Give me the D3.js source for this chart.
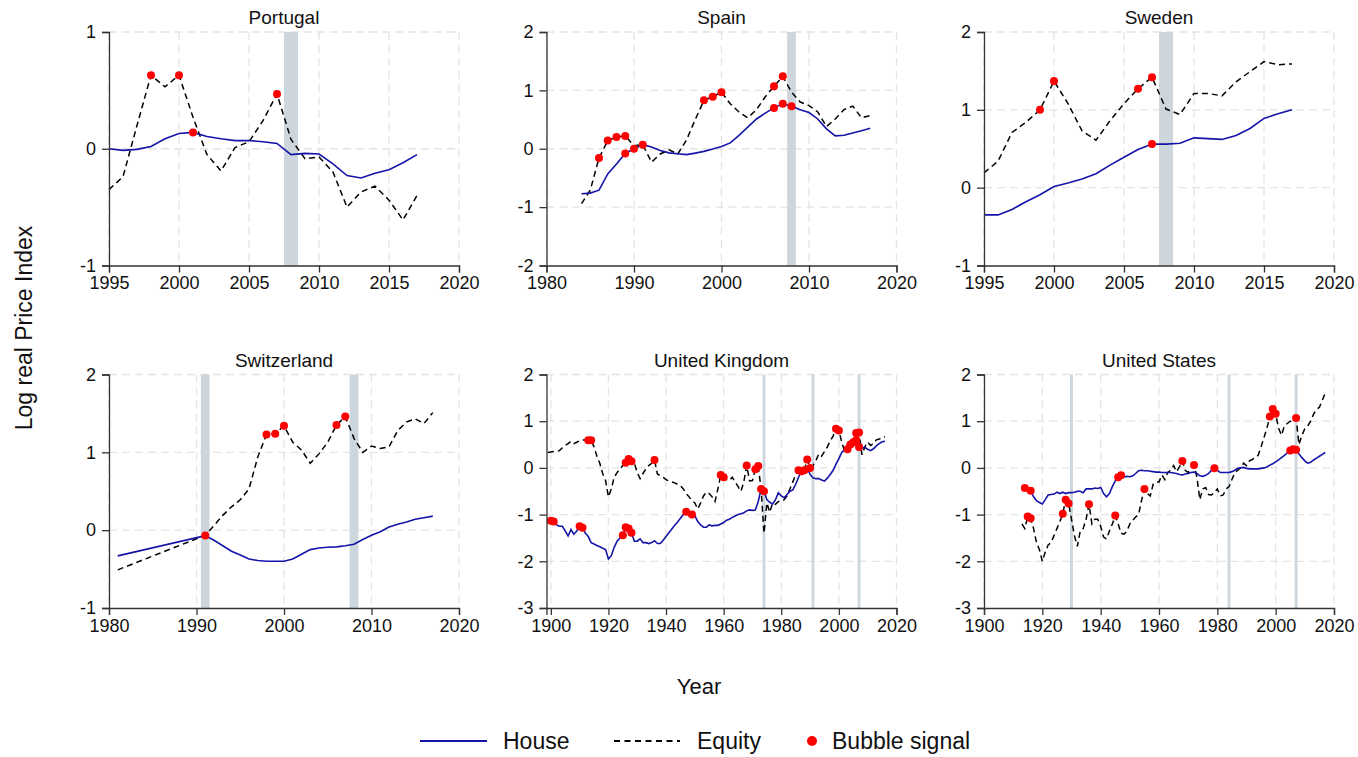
<!DOCTYPE html>
<html><head><meta charset="utf-8">
<script src="https://cdn.jsdelivr.net/npm/d3@7"></script>
<style>
body{margin:0;background:#fff;}
text{font-family:"Liberation Sans",Arial,Helvetica,sans-serif;fill:#111;}
</style></head><body>
<svg id="chart" width="1358" height="757"></svg>
<script>
// ---------- DATA ----------
const countries = ["Portugal","Spain","Sweden","Switzerland","United Kingdom","United States"];

const portugalStart = 1995;
const portugalHouse = [0.0,-0.014,-0.005,0.02,0.085,0.13,0.14,0.105,0.085,0.07,0.07,0.06,0.045,-0.05,-0.04,-0.045,-0.13,-0.23,-0.25,-0.21,-0.18,-0.12,-0.05];
const portugalEquity = [-0.35,-0.24,0.2,0.63,0.53,0.63,0.27,-0.05,-0.19,0.01,0.06,0.24,0.47,0.08,-0.085,-0.07,-0.2,-0.5,-0.37,-0.32,-0.44,-0.61,-0.4];
const portugalHouseBubbles = [2001];
const portugalEquityBubbles = [1998,2000,2007];
const portugalCrises = [[2007.5,2008.5]];

const spainStart = 1984;
const spainHouse = [-0.77,-0.76,-0.71,-0.43,-0.26,-0.08,0.0,0.07,0.03,-0.03,-0.07,-0.085,-0.1,-0.075,-0.045,-0.005,0.04,0.1,0.23,0.37,0.51,0.61,0.7,0.77,0.73,0.67,0.62,0.51,0.34,0.22,0.23,0.27,0.31,0.35];
const spainEquity = [-0.94,-0.71,-0.16,0.14,0.2,0.22,0.05,0.07,-0.23,-0.09,-0.02,-0.09,0.15,0.5,0.83,0.89,0.97,0.77,0.63,0.53,0.67,0.89,1.07,1.24,0.97,0.8,0.74,0.63,0.38,0.51,0.67,0.73,0.53,0.57];
const spainHouseBubbles = [1989,1990,1991,2006,2007,2008];
const spainEquityBubbles = [1986,1987,1988,1989,1998,1999,2000,2006,2007];
const spainCrises = [[2007.5,2008.5]];

const swedenStart = 1995;
const swedenHouse = [-0.35,-0.35,-0.28,-0.18,-0.09,0.015,0.06,0.11,0.18,0.29,0.39,0.49,0.56,0.56,0.57,0.64,0.63,0.62,0.67,0.76,0.89,0.95,1.0];
const swedenEquity = [0.19,0.34,0.71,0.84,1.0,1.37,1.08,0.73,0.61,0.86,1.08,1.27,1.42,1.01,0.94,1.21,1.21,1.18,1.36,1.49,1.62,1.58,1.59];
const swedenHouseBubbles = [2007];
const swedenEquityBubbles = [1999,2000,2006,2007];
const swedenCrises = [[2007.5,2008.5]];

const switzerlandStart = 1981;
const switzerlandHouse = [-0.33,null,null,null,null,null,null,null,null,null,-0.07,-0.13,-0.2,-0.27,-0.32,-0.37,-0.39,-0.4,-0.4,-0.4,-0.37,-0.31,-0.25,-0.23,-0.22,-0.215,-0.2,-0.18,-0.12,-0.065,-0.02,0.04,0.075,0.105,0.14,0.16,0.18];
const switzerlandEquity = [-0.51,null,null,null,null,null,null,null,null,null,-0.066,0.06,0.19,0.3,0.39,0.53,0.94,1.23,1.24,1.34,1.13,1.03,0.86,0.98,1.13,1.35,1.46,1.18,1.0,1.08,1.05,1.07,1.28,1.39,1.43,1.37,1.51];
const switzerlandHouseBubbles = [1991];
const switzerlandEquityBubbles = [1998,1999,2000,2006,2007];
const switzerlandCrises = [[1990.5,1991.5],[2007.5,2008.5]];

const ukStart = 1899;
const ukHouse = [-1.18,-1.13,-1.15,-1.22,-1.25,-1.25,-1.35,-1.46,-1.32,-1.42,-1.35,-1.25,-1.28,-1.4,-1.47,-1.6,-1.63,-1.66,-1.69,-1.72,-1.75,-1.95,-1.88,-1.7,-1.57,-1.5,-1.44,-1.27,-1.3,-1.39,-1.57,-1.57,-1.52,-1.6,-1.6,-1.62,-1.6,-1.56,-1.62,-1.62,-1.55,-1.47,-1.39,-1.31,-1.23,-1.16,-1.08,-1.0,-0.94,-1.02,-1.0,-1.02,-1.15,-1.22,-1.27,-1.27,-1.22,-1.24,-1.23,-1.23,-1.2,-1.17,-1.12,-1.1,-1.06,-1.03,-1.0,-0.98,-0.96,-0.92,-0.9,-0.91,-0.9,-0.72,-0.45,-0.5,-0.68,-0.74,-0.77,-0.68,-0.53,-0.6,-0.64,-0.57,-0.5,-0.47,-0.35,-0.2,-0.06,0.0,0.0,-0.14,-0.21,-0.23,-0.23,-0.26,-0.28,-0.22,-0.14,-0.05,0.08,0.2,0.33,0.39,0.5,0.55,0.58,0.6,0.45,0.42,0.44,0.4,0.37,0.41,0.47,0.52,0.56,0.57];
const ukEquity = [0.33,0.34,0.35,0.35,0.37,0.43,0.48,0.52,0.57,0.52,0.55,0.58,0.6,0.6,0.59,0.59,0.45,0.25,0.1,-0.12,-0.27,-0.62,-0.45,-0.2,-0.1,-0.02,0.05,0.11,0.19,0.14,0.1,-0.1,-0.23,-0.12,-0.02,0.05,0.1,0.17,-0.13,-0.17,-0.2,-0.25,-0.28,-0.3,-0.32,-0.35,-0.38,-0.45,-0.55,-0.62,-0.7,-0.75,-0.88,-0.75,-0.6,-0.52,-0.55,-0.62,-0.72,-0.45,-0.15,-0.2,-0.25,-0.27,-0.2,-0.3,-0.4,-0.5,-0.3,0.05,-0.28,-0.27,-0.03,0.04,-0.45,-1.4,-0.75,-0.95,-0.75,-0.78,-0.72,-0.72,-0.68,-0.6,-0.45,-0.3,-0.15,-0.05,-0.07,-0.05,0.18,0.0,0.05,0.15,0.3,0.25,0.35,0.45,0.58,0.68,0.84,0.8,0.55,0.35,0.4,0.5,0.55,0.75,0.76,0.28,0.45,0.55,0.48,0.52,0.6,0.62,0.63,0.67];
const ukHouseBubbles = [1900,1901,1910,1911,1925,1926,1927,1928,1947,1949,1974,2006,2007];
const ukEquityBubbles = [1913,1914,1926,1927,1928,1936,1959,1960,1968,1971,1972,1973,1986,1987,1988,1989,1990,1999,2000,2003,2004,2005,2006,2007];
const ukCrises = [[1973.5,1974.5],[1990.5,1991.5],[2006.5,2007.5]];

const usHouseStart = 1914;
const usEquityStart = 1913;
const usHouse = [-0.43,-0.45,-0.49,-0.62,-0.7,-0.74,-0.77,-0.68,-0.58,-0.57,-0.56,-0.52,-0.55,-0.52,-0.55,-0.53,-0.53,-0.52,-0.5,-0.5,-0.53,-0.45,-0.45,-0.45,-0.43,-0.44,-0.42,-0.55,-0.62,-0.55,-0.4,-0.28,-0.2,-0.16,-0.2,-0.18,-0.19,-0.17,-0.12,-0.06,-0.05,-0.06,-0.06,-0.07,-0.08,-0.09,-0.09,-0.1,-0.1,-0.1,-0.1,-0.11,-0.12,-0.14,-0.15,-0.13,-0.12,-0.1,-0.09,-0.12,-0.17,-0.18,-0.16,-0.12,-0.05,-0.01,-0.05,-0.1,-0.1,-0.1,-0.1,-0.08,-0.05,-0.01,0.0,0.01,-0.01,-0.02,-0.02,-0.02,-0.02,-0.01,0.0,0.02,0.06,0.09,0.13,0.17,0.22,0.27,0.32,0.37,0.4,0.39,0.3,0.22,0.15,0.1,0.12,0.17,0.21,0.25,0.29,0.33];
const usEquity = [-1.2,-1.3,-1.04,-1.08,-1.3,-1.6,-1.75,-2.0,-1.8,-1.65,-1.6,-1.45,-1.3,-1.15,-0.98,-0.68,-0.76,-1.1,-1.45,-1.68,-1.35,-1.3,-1.1,-0.78,-1.2,-1.1,-1.1,-1.25,-1.48,-1.52,-1.35,-1.2,-1.02,-1.2,-1.4,-1.42,-1.35,-1.2,-1.12,-1.05,-1.0,-0.7,-0.45,-0.55,-0.6,-0.35,-0.3,-0.3,-0.15,-0.25,-0.1,-0.05,0.05,-0.08,0.02,0.15,-0.05,-0.1,-0.02,0.06,-0.2,-0.68,-0.45,-0.42,-0.57,-0.58,-0.52,-0.45,-0.6,-0.58,-0.45,-0.4,-0.25,-0.1,-0.05,0.0,0.1,0.05,0.15,0.18,0.22,0.27,0.45,0.65,0.85,1.1,1.26,1.16,0.85,0.7,0.9,0.95,1.0,1.0,1.07,0.5,0.7,0.84,0.9,1.0,1.15,1.25,1.3,1.45,1.6];
const usHouseBubbles = [1914,1916,1946,1947,1979,2005,2006,2007];
const usEquityBubbles = [1915,1916,1927,1928,1929,1936,1945,1955,1968,1972,1998,1999,2000,2007];
const usCrises = [[1929.5,1930.5],[1983.5,1984.5],[2006.5,2007.5]];

const xDomains = [[1995,2020],[1980,2020],[1995,2020],[1980,2020],[1898.5,2020],[1900,2020]];
const yDomains = [[-1,1],[-2,2],[-1,2],[-1,2],[-3,2],[-3,2]];
const xTickSteps = [5,10,5,10,20,20];
const legendLabels = ["House","Equity","Bubble signal"];

// ---------- BUILD ----------
function series(start, vals){ return vals.map((v,i)=>({x:start+i,y:v})).filter(d=>d.y!==null); }
const panels = [
  {house:series(portugalStart,portugalHouse), equity:series(portugalStart,portugalEquity), hb:portugalHouseBubbles, eb:portugalEquityBubbles, crises:portugalCrises},
  {house:series(spainStart,spainHouse), equity:series(spainStart,spainEquity), hb:spainHouseBubbles, eb:spainEquityBubbles, crises:spainCrises},
  {house:series(swedenStart,swedenHouse), equity:series(swedenStart,swedenEquity), hb:swedenHouseBubbles, eb:swedenEquityBubbles, crises:swedenCrises},
  {house:series(switzerlandStart,switzerlandHouse), equity:series(switzerlandStart,switzerlandEquity), hb:switzerlandHouseBubbles, eb:switzerlandEquityBubbles, crises:switzerlandCrises},
  {house:series(ukStart,ukHouse), equity:series(ukStart,ukEquity), hb:ukHouseBubbles, eb:ukEquityBubbles, crises:ukCrises},
  {house:series(usHouseStart,usHouse), equity:series(usEquityStart,usEquity), hb:usHouseBubbles, eb:usEquityBubbles, crises:usCrises}
];

const svg = d3.select("#chart");
const colX = [109, 546.5, 984];
const rowY = [32, 374.5];
const pw = 350, ph = 233.5;
const houseColor = "#1414a8", dotColor = "#ff0000", shadeColor = "#cdd6dc", gridColor = "#e4e4e4";

panels.forEach((p,i)=>{
  const left = colX[i%3], top = rowY[Math.floor(i/3)];
  const g = svg.append("g").attr("transform",`translate(${left},${top})`);
  const x = d3.scaleLinear().domain(xDomains[i]).range([0,pw]);
  const y = d3.scaleLinear().domain(yDomains[i]).range([ph,0]);
  const xt = d3.range(Math.ceil(xDomains[i][0]/xTickSteps[i])*xTickSteps[i], xDomains[i][1]+0.001, xTickSteps[i]);
  const yt = d3.range(yDomains[i][0], yDomains[i][1]+0.001, 1);

  // grid
  g.append("g").selectAll("line").data(yt.filter(v=>v!==yDomains[i][0])).join("line")
    .attr("x1",0).attr("x2",pw).attr("y1",d=>y(d)).attr("y2",d=>y(d))
    .attr("stroke",gridColor).attr("stroke-width",1.3).attr("stroke-dasharray","8,5");
  g.append("g").selectAll("line").data(xt).join("line")
    .attr("x1",d=>x(d)).attr("x2",d=>x(d)).attr("y1",0).attr("y2",ph)
    .attr("stroke",gridColor).attr("stroke-width",1.3).attr("stroke-dasharray","8,5");

  // crisis shading
  g.append("g").selectAll("rect").data(p.crises).join("rect")
    .attr("x",d=>x(d[0])).attr("width",d=>x(d[1])-x(d[0]))
    .attr("y",0).attr("height",ph).attr("fill",shadeColor);

  // lines
  const line = d3.line().x(d=>x(d.x)).y(d=>y(d.y));
  g.append("path").datum(p.equity).attr("d",line).attr("fill","none")
    .attr("stroke","#000").attr("stroke-width",1.5).attr("stroke-dasharray","6,4");
  g.append("path").datum(p.house).attr("d",line).attr("fill","none")
    .attr("stroke",houseColor).attr("stroke-width",1.6);

  // bubbles
  const pts = p.hb.map(yr=>p.house.find(d=>d.x===yr)).concat(p.eb.map(yr=>p.equity.find(d=>d.x===yr))).filter(Boolean);
  g.append("g").selectAll("circle").data(pts).join("circle")
    .attr("cx",d=>x(d.x)).attr("cy",d=>y(d.y)).attr("r",4).attr("fill",dotColor);

  // axes
  const ax = g.append("g").attr("transform",`translate(0,${ph})`)
    .call(d3.axisBottom(x).tickValues(xt).tickFormat(d=>String(d)).tickSizeOuter(0).tickSize(7).tickPadding(4));
  const ay = g.append("g")
    .call(d3.axisLeft(y).tickValues(yt).tickFormat(d=>String(d)).tickSizeOuter(0).tickSize(7).tickPadding(6));
  [ax,ay].forEach(a=>{
    a.select(".domain").attr("stroke","#333").attr("stroke-width",1.3);
    a.selectAll(".tick line").attr("stroke","#333").attr("stroke-width",1.3);
    a.selectAll(".tick text").attr("font-size",18).attr("fill","#111")
      .attr("font-family","'Liberation Sans',Arial,Helvetica,sans-serif");
  });

  // title
  g.append("text").attr("x",pw/2).attr("y",-8).attr("text-anchor","middle")
    .attr("font-size",19).text(countries[i]);
});

// axis titles
svg.append("text").attr("transform","translate(32,328) rotate(-90)").attr("text-anchor","middle")
  .attr("font-size",23).text("Log real Price Index");
svg.append("text").attr("x",699).attr("y",694).attr("text-anchor","middle")
  .attr("font-size",22).text("Year");

// legend
const lg = svg.append("g");
lg.append("line").attr("x1",420).attr("x2",487).attr("y1",741).attr("y2",741)
  .attr("stroke",houseColor).attr("stroke-width",2);
lg.append("text").attr("x",503).attr("y",749).attr("font-size",23).text(legendLabels[0]);
lg.append("line").attr("x1",614).attr("x2",680).attr("y1",741).attr("y2",741)
  .attr("stroke","#000").attr("stroke-width",1.8).attr("stroke-dasharray","6,4.5");
lg.append("text").attr("x",697).attr("y",749).attr("font-size",23).text(legendLabels[1]);
lg.append("circle").attr("cx",812).attr("cy",741).attr("r",5).attr("fill",dotColor);
lg.append("text").attr("x",832).attr("y",749).attr("font-size",23).text(legendLabels[2]);
</script>
</body></html>
